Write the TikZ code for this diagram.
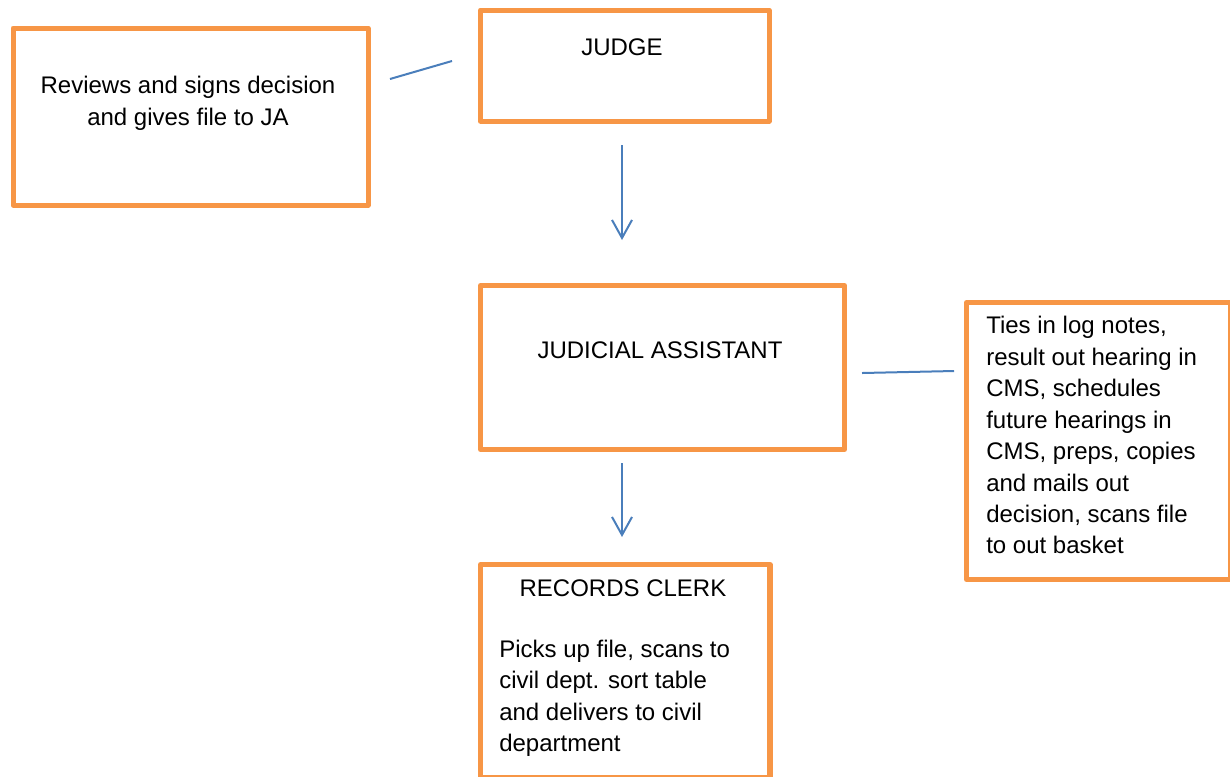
\documentclass[tikz,border=0pt]{standalone}
\usepackage{fontspec}
\setmainfont{Liberation Sans}
\usetikzlibrary{arrows.meta}
\definecolor{boxorange}{HTML}{F79646}
\definecolor{linkblue}{HTML}{4A7EBB}
\begin{document}
\begin{tikzpicture}[x=0.75pt,y=-0.75pt,
  box/.style={draw=boxorange, line width=3.8pt, line join=round, rectangle, inner sep=0pt, anchor=north west},
  txt/.style={inner sep=0pt, font=\fontsize{18pt}{23.6pt}\selectfont},
  link/.style={draw=linkblue, line width=1.5pt},
  arr/.style={link, -{Straight Barb[length=13.5pt,width=15pt,line width=1.5pt]}}
]
\useasboundingbox (0,0) rectangle (1230,776);

% boxes
\node[box, minimum width=266.25pt, minimum height=132.75pt] (review) at (10.5,25.5) {};
\node[box, minimum width=216.4pt, minimum height=83.3pt] (judge) at (478,7.5) {};
\node[box, minimum width=273pt, minimum height=123pt] (ja) at (478,283) {};
\node[box, minimum width=198pt, minimum height=207.75pt] (tasks) at (964,300) {};
\node[box, minimum width=217.1pt, minimum height=159.75pt] (clerk) at (478,562) {};

% texts
\node[txt, anchor=north, align=center] (reviewtxt) at (188,76) {Reviews and signs decision\\and gives file to JA};
\node[txt, anchor=north] (judgetxt) at (622,38.5) {JUDGE};
\node[txt, anchor=north] (jatxt) at (660,341) {JUDICIAL ASSISTANT};
\node[txt, anchor=north west, align=left] (taskstxt) at (986,316) {Ties in log notes,\\result out hearing in\\CMS, schedules\\future hearings in\\CMS, preps, copies\\and mails out\\decision, scans file\\to out basket};
\node[txt, anchor=north] (clerktitle) at (623,579.5) {RECORDS CLERK};
\node[txt, anchor=north west, align=left] (clerktxt) at (499,639.5) {Picks up file, scans to\\civil dept. sort table\\and delivers to civil\\department};

% connectors
\coordinate (l1a) at (390,79);
\coordinate (l1b) at (452,61);
\draw[link] (l1a) -- (l1b);
\coordinate (a1a) at (622,145);
\coordinate (a1b) at (622,240);
\draw[arr] (a1a) -- (a1b);
\coordinate (a2a) at (622,463);
\coordinate (a2b) at (622,537);
\draw[arr] (a2a) -- (a2b);
\coordinate (l2a) at (862,373);
\coordinate (l2b) at (954,371);
\draw[link] (l2a) -- (l2b);
\end{tikzpicture}
\end{document}
